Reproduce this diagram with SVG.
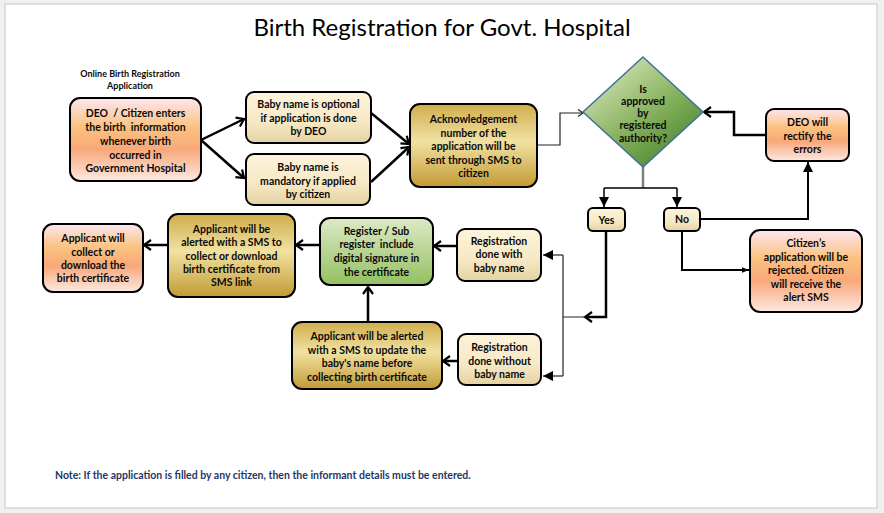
<svg xmlns="http://www.w3.org/2000/svg" width="884" height="513" viewBox="0 0 884 513">
<style>
.t{font-family:Lato,"Open Sans","Liberation Sans",sans-serif;font-weight:bold;font-size:10.5px;fill:#0a0a0a;text-anchor:middle;white-space:pre}
.box{stroke:#000;stroke-width:2}
.c{fill:none;stroke:#000;stroke-width:2.5}
.thin{fill:none;stroke:#222;stroke-width:1.2}
</style>
<defs>
<linearGradient id="gPeach" x1="0" y1="0" x2="0" y2="1">
<stop offset="0" stop-color="#fde6f2"/><stop offset="0.35" stop-color="#fbc27e"/><stop offset="0.62" stop-color="#f8a87a"/><stop offset="1" stop-color="#fde8e2"/>
</linearGradient>
<linearGradient id="gGold" x1="0" y1="0" x2="0" y2="1">
<stop offset="0" stop-color="#cfad4c"/><stop offset="0.45" stop-color="#f1e1a2"/><stop offset="1" stop-color="#c29b34"/>
</linearGradient>
<linearGradient id="gCream" x1="0" y1="0" x2="0" y2="1">
<stop offset="0" stop-color="#fdf4dc"/><stop offset="0.6" stop-color="#f6e8c4"/><stop offset="1" stop-color="#e4d2a2"/>
</linearGradient>
<linearGradient id="gGreen" x1="0" y1="0" x2="0" y2="1">
<stop offset="0" stop-color="#dde9c6"/><stop offset="1" stop-color="#93c062"/>
</linearGradient>
<linearGradient id="gDia" x1="0.2" y1="0.1" x2="0.85" y2="0.9">
<stop offset="0" stop-color="#cde0ae"/><stop offset="0.5" stop-color="#8ab462"/><stop offset="1" stop-color="#4c8630"/>
</linearGradient>
<marker id="chev" markerUnits="userSpaceOnUse" markerWidth="14" markerHeight="14" viewBox="0 0 14 14" refX="11" refY="7" orient="auto">
<path d="M4,2 L11,7 L4,12" fill="none" stroke="#000" stroke-width="2.2"/>
</marker>
<marker id="chevS" markerUnits="userSpaceOnUse" markerWidth="10" markerHeight="10" viewBox="0 0 10 10" refX="8" refY="5" orient="auto">
<path d="M3,1.5 L8,5 L3,8.5" fill="none" stroke="#222" stroke-width="1.2"/>
</marker>
<marker id="tri" markerUnits="userSpaceOnUse" markerWidth="12" markerHeight="12" viewBox="0 0 12 12" refX="11" refY="6" orient="auto">
<path d="M1,1 L11,6 L1,11 Z" fill="#000"/>
</marker>
<marker id="triS" markerUnits="userSpaceOnUse" markerWidth="8" markerHeight="8" viewBox="0 0 8 8" refX="7.5" refY="4" orient="auto">
<path d="M0,1 L7.5,4 L0,7 Z" fill="#000"/>
</marker>
</defs>
<rect x="0" y="0" width="884" height="513" fill="#f0f0f0"/>
<rect x="5" y="4" width="872" height="504" fill="#fff" stroke="#c4c4c4" stroke-width="1"/>
<text x="442" y="36" font-family="Lato,'Open Sans','Liberation Sans',sans-serif" font-size="24" text-anchor="middle" fill="#000">Birth Registration for Govt. Hospital</text>

<g id="connectors">
<path class="c" d="M201,140 L244,119" marker-end="url(#chev)"/>
<path class="c" d="M201,140 L244,178" marker-end="url(#chev)"/>
<path class="c" d="M371,113 L409,144" marker-end="url(#chev)"/>
<path class="c" d="M371,182 L409,147" marker-end="url(#chev)"/>
<path class="thin" d="M537,145 L560,145 L560,113 L583,113" marker-end="url(#chevS)"/>
<path class="c" d="M766,135 L734,135 L734,112 L704,112" marker-end="url(#chev)"/>
<path d="M643,167 L643,188" fill="none" stroke="#808080" stroke-width="2.5"/>
<path d="M604,188 L677,188" fill="none" stroke="#000" stroke-width="1.5"/>
<path d="M604,188 L604,207" fill="none" stroke="#000" stroke-width="1.5" marker-end="url(#tri)"/>
<path d="M677,188 L677,207" fill="none" stroke="#000" stroke-width="1.5" marker-end="url(#tri)"/>
<path d="M700,219 L808,219 L808,162" fill="none" stroke="#000" stroke-width="2" marker-end="url(#tri)"/>
<path d="M682,231 L682,270 L749,270" fill="none" stroke="#000" stroke-width="2" marker-end="url(#triS)"/>
<path class="c" d="M606,231 L606,317 L585,317" marker-end="url(#chev)"/>
<path class="thin" d="M585,317 L563,317 M563,255 L563,376"/>
<path class="thin" d="M563,255 L543,255" marker-end="url(#tri)"/>
<path class="thin" d="M563,376 L543,376" marker-end="url(#tri)"/>
<path class="c" d="M457,246 L434,246" marker-end="url(#chev)"/>
<path class="c" d="M320,245 L296,245" marker-end="url(#chev)"/>
<path class="c" d="M168,245 L144,245" marker-end="url(#chev)"/>
<path class="c" d="M458,361 L443,361" marker-end="url(#chev)"/>
<path class="c" d="M368,322 L368,287" marker-end="url(#chev)"/>
</g>

<g id="n-label">
<text class="t" style="font-size:9px"><tspan x="130" y="76.5">Online Birth Registration</tspan><tspan x="130" y="88.5">Application</tspan></text>
</g>
<g id="n-deo-citizen">
<rect class="box" x="70" y="98" width="131" height="83" rx="10" fill="url(#gPeach)"/>
<text class="t"><tspan x="135.5" y="117">DEO  / Citizen enters</tspan><tspan x="135.5" y="131">the birth  information</tspan><tspan x="135.5" y="145">whenever birth</tspan><tspan x="135.5" y="158.5">occurred in</tspan><tspan x="135.5" y="172">Government Hospital</tspan></text>
</g>
<g id="n-optional">
<rect class="box" x="246" y="92" width="125" height="51" rx="8" fill="url(#gCream)"/>
<text class="t"><tspan x="308.5" y="108">Baby name is optional</tspan><tspan x="308.5" y="121.5">if application is done</tspan><tspan x="308.5" y="135">by DEO</tspan></text>
</g>
<g id="n-mandatory">
<rect class="box" x="246" y="154" width="124" height="51" rx="8" fill="url(#gCream)"/>
<text class="t"><tspan x="308" y="171">Baby name is</tspan><tspan x="308" y="184.5">mandatory if applied</tspan><tspan x="308" y="198">by citizen</tspan></text>
</g>
<g id="n-ack">
<rect class="box" x="410" y="104" width="127" height="83" rx="10" fill="url(#gGold)"/>
<text class="t"><tspan x="473.5" y="123">Acknowledgement</tspan><tspan x="473.5" y="136.5">number of the</tspan><tspan x="473.5" y="150">application will be</tspan><tspan x="473.5" y="163.5">sent through SMS to</tspan><tspan x="473.5" y="177">citizen</tspan></text>
</g>
<g id="n-approved">
<polygon points="643,57 703,112 643,167 583,112" fill="url(#gDia)" stroke="#41719c" stroke-width="1.5"/>
<text class="t"><tspan x="643" y="93">Is</tspan><tspan x="643" y="105">approved</tspan><tspan x="643" y="117">by</tspan><tspan x="643" y="129">registered</tspan><tspan x="643" y="141.5">authority?</tspan></text>
</g>
<g id="n-rectify">
<rect class="box" x="766" y="109" width="83" height="52" rx="8" fill="url(#gPeach)"/>
<text class="t"><tspan x="807.5" y="126">DEO will</tspan><tspan x="807.5" y="140">rectify the</tspan><tspan x="807.5" y="153">errors</tspan></text>
</g>
<g id="n-yes">
<rect class="box" x="588" y="208" width="37" height="23" rx="5" fill="url(#gCream)"/>
<text class="t"><tspan x="606.5" y="223.5">Yes</tspan></text>
</g>
<g id="n-no">
<rect class="box" x="664" y="208" width="36" height="23" rx="5" fill="url(#gCream)"/>
<text class="t"><tspan x="682" y="223">No</tspan></text>
</g>
<g id="n-rejected">
<rect class="box" x="750" y="230" width="112" height="82" rx="10" fill="url(#gPeach)"/>
<text class="t"><tspan x="806" y="247">Citizen’s</tspan><tspan x="806" y="261">application will be</tspan><tspan x="806" y="274">rejected. Citizen</tspan><tspan x="806" y="288">will receive the</tspan><tspan x="806" y="301">alert SMS</tspan></text>
</g>
<g id="n-reg-with">
<rect class="box" x="457" y="229" width="84" height="52" rx="8" fill="url(#gCream)"/>
<text class="t"><tspan x="499" y="245">Registration</tspan><tspan x="499" y="258">done with</tspan><tspan x="499" y="272">baby name</tspan></text>
</g>
<g id="n-reg-without">
<rect class="box" x="458" y="334" width="83" height="51" rx="8" fill="url(#gCream)"/>
<text class="t"><tspan x="499.5" y="351">Registration</tspan><tspan x="499.5" y="365">done without</tspan><tspan x="499.5" y="378">baby name</tspan></text>
</g>
<g id="n-register">
<rect class="box" x="320" y="218" width="113" height="67" rx="10" fill="url(#gGreen)"/>
<text class="t"><tspan x="376.5" y="235">Register / Sub</tspan><tspan x="376.5" y="248">register  include</tspan><tspan x="376.5" y="262">digital signature in</tspan><tspan x="376.5" y="276">the certificate</tspan></text>
</g>
<g id="n-alert-collect">
<rect class="box" x="168" y="214" width="127" height="83" rx="10" fill="url(#gGold)"/>
<text class="t"><tspan x="231.5" y="233">Applicant will be</tspan><tspan x="231.5" y="246">alerted with a SMS to</tspan><tspan x="231.5" y="260">collect or download</tspan><tspan x="231.5" y="273">birth certificate from</tspan><tspan x="231.5" y="286">SMS link</tspan></text>
</g>
<g id="n-collect">
<rect class="box" x="43" y="224" width="100" height="68" rx="10" fill="url(#gPeach)"/>
<text class="t"><tspan x="93" y="242">Applicant will</tspan><tspan x="93" y="256">collect or</tspan><tspan x="93" y="269">download the</tspan><tspan x="93" y="282">birth certificate</tspan></text>
</g>
<g id="n-update">
<rect class="box" x="292" y="322" width="150" height="67" rx="10" fill="url(#gGold)"/>
<text class="t"><tspan x="367" y="340">Applicant will be alerted</tspan><tspan x="367" y="354">with a SMS to update the</tspan><tspan x="367" y="367">baby's name before</tspan><tspan x="367" y="381">collecting birth certificate</tspan></text>
</g>
<g id="n-note">
<text x="55" y="479" font-family="Lato,'Open Sans','Liberation Sans',sans-serif" font-weight="bold" font-size="10.5" fill="#1f3864">Note: If the application is filled by any citizen, then the informant details must be entered.</text>
</g>
</svg>
